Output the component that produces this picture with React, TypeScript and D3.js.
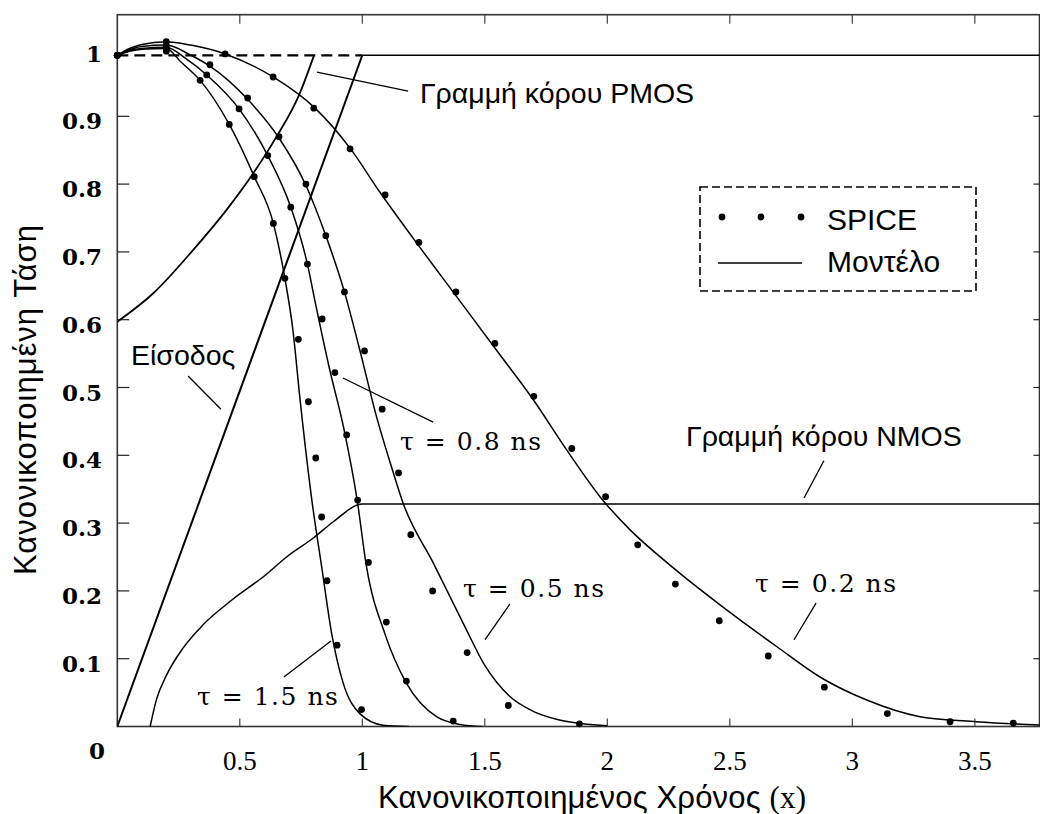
import React from "react";
import * as d3 from "d3";

type Pt = [number, number];

// axis ticks
const xTicks = [0.5, 1, 1.5, 2, 2.5, 3, 3.5];
const xTickLabels = ["0.5", "1", "1.5", "2", "2.5", "3", "3.5"];
const yTicks = [0.1, 0.2, 0.3, 0.4, 0.5, 0.6, 0.7, 0.8, 0.9];
const yLabelValues = [0.1, 0.2, 0.3, 0.4, 0.5, 0.6, 0.7, 0.8, 0.9, 1];
const yLabelTexts = ["0.1", "0.2", "0.3", "0.4", "0.5", "0.6", "0.7", "0.8", "0.9", "1"];

// supply level (dashed up to x = 1, solid after)
const vddLevel = 0.99;
const vddDashEnd = 1.0;

// input ramp
const inputRamp: Pt[] = [[0, 0], [1.0, 0.99]];

// saturation lines
const pmosSat: Pt[] = [
  [0, 0.597], [0.147, 0.639], [0.31, 0.703], [0.446, 0.762], [0.555, 0.816],
  [0.65, 0.87], [0.739, 0.929], [0.803, 0.99],
];
const nmosSat: Pt[] = [
  [0.134, 0], [0.16, 0.04], [0.2, 0.075], [0.269, 0.116], [0.35, 0.15],
  [0.473, 0.188], [0.6, 0.222], [0.691, 0.25], [0.8, 0.278], [0.882, 0.302], [1.0, 0.328],
  [3.77, 0.328],
];

// model curves
const tau02Model: Pt[] = [
  [0, 0.99], [0.05, 1.0], [0.1, 1.006], [0.2, 1.01], [0.3, 1.005], [0.44, 0.992],
  [0.636, 0.958], [0.807, 0.912], [0.95, 0.853], [1.072, 0.788], [1.208, 0.72],
  [1.385, 0.634], [1.548, 0.555], [1.698, 0.482], [1.834, 0.408], [1.97, 0.339],
  [2.093, 0.29], [2.256, 0.238], [2.487, 0.172], [2.691, 0.118], [2.868, 0.073],
  [3.059, 0.039], [3.276, 0.0145], [3.507, 0.007], [3.77, 0.002],
];
const tau05Model: Pt[] = [
  [0, 0.99], [0.05, 0.998], [0.1, 1.003], [0.2, 1.005], [0.3, 0.99], [0.378, 0.974],
  [0.532, 0.925], [0.66, 0.868], [0.77, 0.798], [0.851, 0.724], [0.927, 0.641],
  [0.99, 0.555], [1.058, 0.457], [1.119, 0.383], [1.167, 0.329], [1.29, 0.241],
  [1.419, 0.147], [1.5, 0.09], [1.6, 0.045], [1.7, 0.022], [1.8, 0.01], [1.9, 0.004], [2.0, 0.001],
];
const tau08Model: Pt[] = [
  [0, 0.99], [0.05, 0.997], [0.1, 1.0], [0.2, 1.002], [0.28, 0.985], [0.365, 0.961],
  [0.497, 0.911], [0.614, 0.842], [0.708, 0.766], [0.776, 0.682], [0.806, 0.629],
  [0.864, 0.531], [0.929, 0.432], [0.979, 0.334], [1.017, 0.236], [1.092, 0.137],
  [1.18, 0.064], [1.303, 0.0145], [1.4, 0.003], [1.49, 0],
];
const tau15Model: Pt[] = [
  [0, 0.99], [0.05, 0.996], [0.1, 0.999], [0.2, 1.0], [0.26, 0.98], [0.338, 0.953],
  [0.457, 0.888], [0.559, 0.811], [0.637, 0.742], [0.684, 0.661], [0.716, 0.587],
  [0.746, 0.482], [0.794, 0.334], [0.834, 0.236], [0.875, 0.137], [0.922, 0.064],
  [0.99, 0.019], [1.085, 0.002], [1.19, 0],
];

// SPICE samples
const tau02Spice: Pt[] = [
  [0, 0.99], [0.2, 1.01], [0.44, 0.992], [0.636, 0.958], [0.802, 0.912], [0.95, 0.852],
  [1.093, 0.784], [1.231, 0.714], [1.382, 0.641], [1.541, 0.565], [1.7, 0.487],
  [1.855, 0.41], [1.993, 0.339], [2.124, 0.268], [2.278, 0.21], [2.457, 0.156],
  [2.657, 0.104], [2.886, 0.058], [3.143, 0.019], [3.399, 0.007], [3.657, 0.005],
];
const tau05Spice: Pt[] = [
  [0, 0.99], [0.2, 1.004], [0.378, 0.976], [0.532, 0.927], [0.66, 0.87], [0.77, 0.8],
  [0.851, 0.724], [0.927, 0.641], [1.009, 0.554], [1.081, 0.468], [1.148, 0.374],
  [1.198, 0.283], [1.287, 0.2], [1.428, 0.109], [1.596, 0.031], [1.886, 0.004],
];
const tau08Spice: Pt[] = [
  [0, 0.99], [0.2, 1.0], [0.365, 0.961], [0.497, 0.911], [0.614, 0.842], [0.708, 0.766],
  [0.776, 0.682], [0.836, 0.601], [0.888, 0.522], [0.936, 0.43], [0.981, 0.334],
  [1.025, 0.242], [1.098, 0.154], [1.18, 0.067], [1.371, 0.008],
];
const tau15Spice: Pt[] = [
  [0, 0.99], [0.2, 0.996], [0.338, 0.953], [0.457, 0.888], [0.559, 0.811], [0.637, 0.742],
  [0.684, 0.661], [0.739, 0.571], [0.78, 0.479], [0.81, 0.396], [0.834, 0.309],
  [0.856, 0.215], [0.897, 0.12], [0.997, 0.025],
];

// annotations: text anchor point plus a leader line, all in data units
const tauNotes: { text: string; at: Pt; from: Pt; to: Pt }[] = [
  { text: "τ = 0.8 ns", at: [1.154, 0.408], from: [0.921, 0.514], to: [1.289, 0.449] },
  { text: "τ = 0.5 ns", at: [1.411, 0.191], from: [1.603, 0.181], to: [1.501, 0.128] },
  { text: "τ = 0.2 ns", at: [2.603, 0.198], from: [2.852, 0.182], to: [2.762, 0.128] },
  { text: "τ = 1.5 ns", at: [0.325, 0.032], from: [0.68, 0.073], to: [0.872, 0.126] },
];
const sansNotes: { text: string; at: Pt; from: Pt; to: Pt }[] = [
  { text: "Γραμμή κόρου PMOS", at: [1.235, 0.92], from: [0.815, 0.965], to: [1.187, 0.937] },
  { text: "Γραμμή κόρου NMOS", at: [2.321, 0.414], from: [2.884, 0.392], to: [2.803, 0.337] },
  { text: "Είσοδος", at: [0.056, 0.533], from: [0.289, 0.517], to: [0.423, 0.468] },
];

const W = 1040;
const H = 814;
const left = 117.3;
const right = 1039.5;
const top = 14.7;
const bottom = 726.5;

const serif = "'DejaVu Serif', serif";
const sans = "'Liberation Sans', Arial, sans-serif";

export default function App() {
  const x = d3.scaleLinear().domain([0, 3.764]).range([left, right]);
  const y = d3.scaleLinear().domain([0, 1]).range([bottom, bottom - 678]);

  const smooth = d3
    .line<Pt>()
    .x((d) => x(d[0]))
    .y((d) => y(d[1]))
    .curve(d3.curveMonotoneX);
  const straight = d3
    .line<Pt>()
    .x((d) => x(d[0]))
    .y((d) => y(d[1]));

  const models = [tau02Model, tau05Model, tau08Model, tau15Model];
  const spice = [tau02Spice, tau05Spice, tau08Spice, tau15Spice];

  return (
    <svg
      width={W}
      height={H}
      style={{ position: "absolute", left: 0, top: 0, background: "#fff" }}
    >
      <defs>
        <clipPath id="plot">
          <rect x={left} y={top} width={right - left} height={bottom - top} />
        </clipPath>
      </defs>

      {/* frame */}
      <rect
        x={left}
        y={top}
        width={right - left}
        height={bottom - top}
        fill="none"
        stroke="#333"
        strokeWidth={1.6}
      />

      {/* ticks on all sides */}
      {xTicks.map((t) => (
        <g key={"xt" + t} stroke="#444" strokeWidth={1.2}>
          <line x1={x(t)} x2={x(t)} y1={bottom} y2={bottom - 8} />
          <line x1={x(t)} x2={x(t)} y1={top} y2={top + 9} />
        </g>
      ))}
      {yTicks.map((t) => (
        <g key={"yt" + t} stroke="#222" strokeWidth={1.2}>
          <line x1={left} x2={left + 12} y1={y(t)} y2={y(t)} />
          <line x1={right} x2={right - 6} y1={y(t)} y2={y(t)} />
        </g>
      ))}

      {/* tick labels */}
      {xTicks.map((t, i) => (
        <text
          key={"xl" + t}
          x={x(t)}
          y={770}
          textAnchor="middle"
          fontFamily="'Liberation Serif', serif"
          fontSize={27}
        >
          {xTickLabels[i]}
        </text>
      ))}
      {yLabelValues.map((t, i) => (
        <text
          key={"yl" + t}
          x={102}
          y={y(t) + 13}
          textAnchor="end"
          fontFamily={serif}
          fontWeight="bold"
          fontSize={23}
        >
          {yLabelTexts[i]}
        </text>
      ))}
      <text x={97} y={759} textAnchor="middle" fontFamily={serif} fontWeight="bold" fontSize={23}>
        0
      </text>

      <g clipPath="url(#plot)" fill="none" stroke="#000">
        {/* supply level */}
        <path
          d={straight([[0, vddLevel], [vddDashEnd, vddLevel]]) || ""}
          strokeWidth={2.2}
          strokeDasharray="11 6"
        />
        <path
          d={straight([[vddDashEnd, vddLevel], [3.8, vddLevel]]) || ""}
          strokeWidth={1.5}
        />
        <path d={straight(inputRamp) || ""} strokeWidth={2} />
        <path d={smooth(pmosSat) || ""} strokeWidth={1.8} />
        <path d={smooth(nmosSat) || ""} strokeWidth={1.5} />
        {models.map((m, i) => (
          <path key={"m" + i} d={smooth(m) || ""} strokeWidth={1.5} />
        ))}
      </g>

      {/* SPICE points */}
      <g fill="#000">
        {spice.map((s, i) =>
          s.map((d, j) => (
            <circle key={"s" + i + "-" + j} cx={x(d[0])} cy={y(d[1])} r={3.4} />
          ))
        )}
      </g>

      {/* annotations */}
      <g stroke="#000" strokeWidth={1.3}>
        {[...tauNotes, ...sansNotes].map((n, i) => (
          <line
            key={"ld" + i}
            x1={x(n.from[0])}
            y1={y(n.from[1])}
            x2={x(n.to[0])}
            y2={y(n.to[1])}
          />
        ))}
      </g>
      {tauNotes.map((n, i) => (
        <text
          key={"tn" + i}
          x={x(n.at[0])}
          y={y(n.at[1])}
          fontFamily={serif}
          fontSize={25}
          textLength={141}
          lengthAdjust="spacing"
        >
          {n.text}
        </text>
      ))}
      {sansNotes.map((n, i) => (
        <text key={"sn" + i} x={x(n.at[0])} y={y(n.at[1])} fontFamily={sans} fontSize={28.5}>
          {n.text}
        </text>
      ))}

      {/* legend */}
      <rect
        x={700}
        y={187}
        width={276}
        height={104}
        fill="none"
        stroke="#000"
        strokeWidth={1.6}
        strokeDasharray="8 4"
      />
      {[722, 761, 801].map((cx) => (
        <circle key={"lg" + cx} cx={cx} cy={217} r={3.4} fill="#000" />
      ))}
      <line x1={718} x2={802} y1={263} y2={263} stroke="#000" strokeWidth={1.5} />
      <text x={827} y={230} fontFamily={sans} fontSize={30}>
        SPICE
      </text>
      <text x={827} y={272} fontFamily={sans} fontSize={30}>
        Μοντέλο
      </text>

      {/* axis titles */}
      <text x={378} y={808} fontFamily={sans} fontSize={31} textLength={428}>
        Κανονικοποιημένος Χρόνος{" "}
        <tspan fontFamily="'Liberation Serif', serif">(x)</tspan>
      </text>
      <text
        transform="translate(36,400) rotate(-90)"
        textAnchor="middle"
        fontFamily={sans}
        fontSize={31}
        textLength={350}
      >
        Κανονικοποιημένη Τάση
      </text>
    </svg>
  );
}
